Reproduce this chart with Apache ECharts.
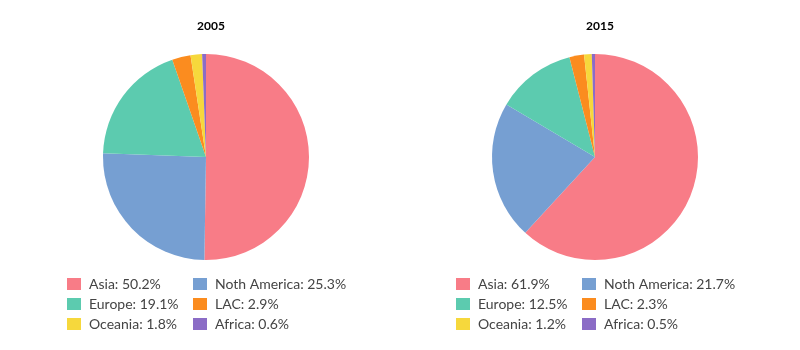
<!DOCTYPE html>
<html>
<head>
<meta charset="utf-8">
<script src="https://cdn.jsdelivr.net/npm/echarts@6/dist/echarts.min.js"></script>
<style>html,body{margin:0;padding:0;background:#fff}#c{width:800px;height:350px}</style>
</head>
<body>
<div id="c"></div>
<script>
const categories = ['Asia', 'Noth America', 'Europe', 'LAC', 'Oceania', 'Africa'];
const values2005 = [50.2, 25.3, 19.1, 2.9, 1.8, 0.6];
const values2015 = [61.9, 21.7, 12.5, 2.3, 1.2, 0.5];
const titles = ['2005', '2015'];
const colors = ['#f87c87', '#769fd2', '#5ccbaf', '#fb8c1f', '#f6d83c', '#8b6cc6'];

const font = 'Lato';
function fmt(vals) {
  return function (name) { return name + ': ' + vals[categories.indexOf(name)].toFixed(1) + '%'; };
}
function legend(left, names, vals) {
  return {
    left: left, top: 277, orient: 'vertical', itemWidth: 14, itemHeight: 12, itemGap: 6, padding: 0,
    icon: 'rect', data: names, formatter: fmt(vals), selectedMode: false,
    textStyle: { fontFamily: font, fontSize: 14, color: '#444', padding: [0, 0, 0, 3], lineHeight: 14 }
  };
}
const colA = [categories[0], categories[2], categories[4]];
const colB = [categories[1], categories[3], categories[5]];
function pieData(vals) { return categories.map((c, i) => ({ name: c, value: vals[i] })); }

const chart = echarts.init(document.getElementById('c'), null, { renderer: 'canvas' });
chart.setOption({
  animation: false,
  color: colors,
  title: [
    { text: titles[0], left: 206, top: 15, textAlign: 'center', textStyle: { fontFamily: font, fontSize: 12, fontWeight: 'bold', color: '#000' } },
    { text: titles[1], left: 595, top: 15, textAlign: 'center', textStyle: { fontFamily: font, fontSize: 12, fontWeight: 'bold', color: '#000' } }
  ],
  legend: [
    legend(67, colA, values2005), legend(193, colB, values2005),
    legend(456, colA, values2015), legend(582, colB, values2015)
  ],
  series: [
    { type: 'pie', center: [206, 157], radius: 103, data: pieData(values2005), label: { show: false }, labelLine: { show: false }, startAngle: 90, clockwise: true },
    { type: 'pie', center: [595, 157], radius: 103, data: pieData(values2015), label: { show: false }, labelLine: { show: false }, startAngle: 90, clockwise: true }
  ]
});
</script>
</body>
</html>
